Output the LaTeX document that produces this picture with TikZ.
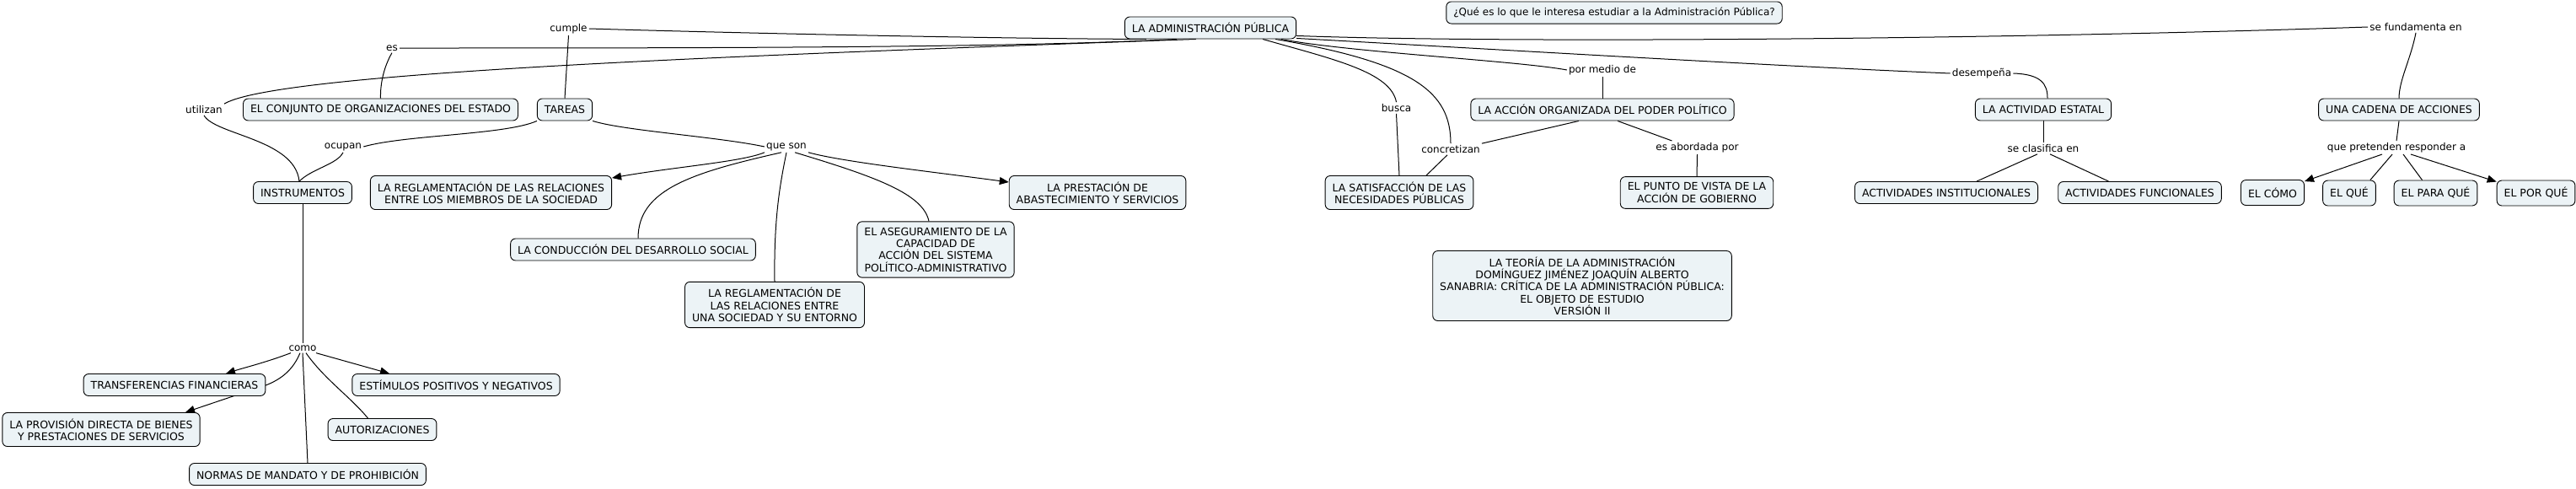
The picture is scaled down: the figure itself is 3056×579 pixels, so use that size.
\documentclass[tikz,border=0pt]{standalone}
\usepackage{fontspec}
\setmainfont{DejaVu Sans}
\usetikzlibrary{arrows.meta, backgrounds}
\definecolor{conceptfill}{RGB}{236,243,246}

\begin{document}
\begin{tikzpicture}[x=1pt, y=1pt, >={Triangle[length=11pt,width=9pt]},
  font=\fontsize{12}{14.3}\selectfont, line cap=round, line join=round,
  concept/.style={draw=black, fill=conceptfill, rounded corners=6pt,
    line width=0.9pt, align=center, inner xsep=8.5pt, inner ysep=7pt,
    minimum height=26pt, font=\fontsize{12.5}{14.3}\selectfont},
  smallbox/.style={concept, minimum height=30pt},
  linkword/.style={inner sep=2pt},
  wire/.style={line width=1pt}]

  %% ---- frame ----
  \useasboundingbox (0,0) rectangle (3056,-579);

  %% ---- concepts ----
  \node[concept] (admin)    at (1436,-33)  {LA ADMINISTRACIÓN PÚBLICA};
  \node[concept, font=\fontsize{12}{14.3}\selectfont] (pregunta) at (1915,-15)  {¿Qué es lo que le interesa estudiar a la Administración Pública?};
  \node[concept] (conjunto) at (451.5,-130) {EL CONJUNTO DE ORGANIZACIONES DEL ESTADO};
  \node[concept] (tareas)   at (670,-130)  {TAREAS};
  \node[concept] (instrumentos) at (359,-228.5) {INSTRUMENTOS};
  \node[concept] (reglaUno) at (582.5,-228.5) {LA REGLAMENTACIÓN DE LAS RELACIONES\\ENTRE LOS MIEMBROS DE LA SOCIEDAD};
  \node[concept] (conduccion) at (751,-296) {LA CONDUCCIÓN DEL DESARROLLO SOCIAL};
  \node[concept] (reglaDos) at (919,-361.5) {LA REGLAMENTACIÓN DE\\LAS RELACIONES ENTRE\\UNA SOCIEDAD Y SU ENTORNO};
  \node[concept] (asegura)  at (1110,-296) {EL ASEGURAMIENTO DE LA\\CAPACIDAD DE\\ACCIÓN DEL SISTEMA\\POLÍTICO-ADMINISTRATIVO};
  \node[concept] (prestacion) at (1302,-228.5) {LA PRESTACIÓN DE\\ABASTECIMIENTO Y SERVICIOS};
  \node[concept] (satisfaccion) at (1660,-228.5) {LA SATISFACCIÓN DE LAS\\NECESIDADES PÚBLICAS};
  \node[concept] (accion)   at (1901,-130) {LA ACCIÓN ORGANIZADA DEL PODER POLÍTICO};
  \node[concept] (punto)    at (2013,-228.5) {EL PUNTO DE VISTA DE LA\\ACCIÓN DE GOBIERNO};
  \node[concept] (teoria)   at (1877,-339) {LA TEORÍA DE LA ADMINISTRACIÓN\\DOMÍNGUEZ JIMÉNEZ JOAQUÍN ALBERTO\\SANABRIA: CRÍTICA DE LA ADMINISTRACIÓN PÚBLICA:\\EL OBJETO DE ESTUDIO\\VERSIÓN II};
  \node[concept] (estatal)  at (2424,-130) {LA ACTIVIDAD ESTATAL};
  \node[concept] (cadena)   at (2846,-130) {UNA CADENA DE ACCIONES};
  \node[concept] (instit)   at (2309,-228.5) {ACTIVIDADES INSTITUCIONALES};
  \node[concept] (funcion)  at (2538.5,-228.5) {ACTIVIDADES FUNCIONALES};
  \node[smallbox] (cComo)   at (2696,-228.5) {EL CÓMO};
  \node[smallbox] (cQue)    at (2787,-229) {EL QUÉ};
  \node[smallbox] (cPara)   at (2889.5,-229) {EL PARA QUÉ};
  \node[smallbox] (cPorque) at (3008.5,-229) {EL POR QUÉ};
  \node[concept] (transfer) at (207,-456.5) {TRANSFERENCIAS FINANCIERAS};
  \node[concept] (estimulos) at (541,-456.5) {ESTÍMULOS POSITIVOS Y NEGATIVOS};
  \node[concept] (provision) at (120,-509.5) {LA PROVISIÓN DIRECTA DE BIENES\\Y PRESTACIONES DE SERVICIOS};
  \node[concept] (autoriza) at (453.5,-509.5) {AUTORIZACIONES};
  \node[concept] (normas)   at (365,-562.5) {NORMAS DE MANDATO Y DE PROHIBICIÓN};

  %% ---- linking words ----
  \node[linkword] (lCumple)   at (674.5,-34) {cumple};
  \node[linkword] (lEs)       at (465,-57)   {es};
  \node[linkword] (lUtilizan) at (242,-130)  {utilizan};
  \node[linkword] (lOcupan)   at (407,-174)  {ocupan};
  \node[linkword] (lQueSon)   at (933,-174)  {que son};
  \node[linkword] (lComo)     at (359,-413)  {como};
  \node[linkword] (lBusca)    at (1656.5,-128) {busca};
  \node[linkword] (lConcretizan) at (1721,-177) {concretizan};
  \node[linkword] (lMedio)    at (1901,-83)  {por medio de};
  \node[linkword] (lAbordada) at (2013.5,-175) {es abordada por};
  \node[linkword] (lDesempena) at (2351,-87) {desempeña};
  \node[linkword] (lFundamenta) at (2866,-32) {se fundamenta en};
  \node[linkword] (lClasifica) at (2424,-176) {se clasifica en};
  \node[linkword] (lPretenden) at (2843,-175) {que pretenden responder a};

  \begin{scope}[on background layer]
  %% ---- from the administration, to the left ----
  \draw[wire] (lCumple.east) .. controls (900,-40) and (1200,-46) .. ([xshift=26pt]admin.south west);
  \draw[wire] (lEs.east) .. controls (800,-57) and (1200,-57) .. ([xshift=62pt]admin.south west);
  \draw[wire] (lUtilizan.north east) .. controls (330,-85) and (900,-65) .. ([xshift=85pt]admin.south west);
  \draw[wire] (lCumple.south) -- (tareas.north);
  \draw[wire] (lEs.south) .. controls (455,-80) and (451,-100) .. (conjunto.north);
  \draw[wire] (lUtilizan.south) .. controls (255,-160) and (350,-165) .. ([xshift=-4pt]instrumentos.north);
  \draw[wire] (tareas.south west) .. controls (600,-160) and (480,-160) .. (lOcupan.east);
  \draw[wire] (lOcupan.south) .. controls (400,-195) and (370,-200) .. ([xshift=-4pt]instrumentos.north);
  \draw[wire] (tareas.south east) .. controls (740,-155) and (850,-162) .. (lQueSon.west);

  %% ---- que son ----
  \draw[wire,->] (lQueSon.south west) .. controls (880,-192) and (800,-198) .. ([yshift=-3pt]reglaUno.north east);
  \draw[wire] ([xshift=-6pt]lQueSon.south) .. controls (820,-205) and (757,-225) .. ([xshift=6pt]conduccion.north);
  \draw[wire] (lQueSon.south) .. controls (925,-220) and (918,-260) .. (reglaDos.north);
  \draw[wire] ([xshift=10pt]lQueSon.south) .. controls (1040,-210) and (1095,-230) .. ([xshift=-8pt]asegura.north);
  \draw[wire,->] (lQueSon.south east) .. controls (1000,-192) and (1100,-203) .. ([yshift=-8pt]prestacion.north west);

  %% ---- como ----
  \draw[wire] (instrumentos.south) -- (lComo.north);
  \draw[wire,->] ([xshift=-14pt]lComo.south) .. controls (315,-430) and (290,-436) .. ([xshift=61pt]transfer.north);
  \draw[wire,->] ([xshift=-3pt]lComo.south) .. controls (345,-445) and (325,-455) .. (300,-462) -- ([xshift=100pt]provision.north);
  \draw[wire] (lComo.south) -- (normas.north);
  \draw[wire] ([xshift=4pt]lComo.south) .. controls (385,-450) and (415,-470) .. ([xshift=-17pt]autoriza.north);
  \draw[wire,->] ([xshift=16pt]lComo.south) -- ([xshift=-79pt]estimulos.north);

  %% ---- middle ----
  \draw[wire] ([xshift=62pt]admin.south) .. controls (1580,-70) and (1650,-85) .. (lBusca.north);
  \draw[wire] (lBusca.south) -- (satisfaccion.north);
  \draw[wire] ([xshift=77pt]admin.south) .. controls (1680,-75) and (1721,-110) .. (lConcretizan.north);
  \draw[wire] ([xshift=-28pt]accion.south) -- (lConcretizan.north east);
  \draw[wire] ([xshift=-4pt]lConcretizan.south) -- ([xshift=32pt]satisfaccion.north);
  \draw[wire] ([xshift=84pt]admin.south) .. controls (1600,-62) and (1800,-72) .. (lMedio.west);
  \draw[wire] (lMedio.south) -- (accion.north);
  \draw[wire] ([xshift=18pt]accion.south) -- ([xshift=-30pt]lAbordada.north);
  \draw[wire] (lAbordada.south) -- (punto.north);

  %% ---- right ----
  \draw[wire] ([yshift=1pt]admin.south east) .. controls (1800,-60) and (2100,-78) .. (lDesempena.west);
  \draw[wire] ([yshift=4pt]admin.south east) .. controls (1800,-52) and (2400,-46) .. (lFundamenta.west);
  \draw[wire] (lDesempena.east) .. controls (2422,-88) and (2429,-100) .. ([xshift=5pt]estatal.north);
  \draw[wire] (lFundamenta.south) .. controls (2860,-70) and (2846,-95) .. (cadena.north);
  \draw[wire] (cadena.south) -- (lPretenden.north);
  \draw[wire] (estatal.south) -- (lClasifica.north);
  \draw[wire] ([xshift=-7pt]lClasifica.south) -- ([xshift=36pt]instit.north);
  \draw[wire] ([xshift=8pt]lClasifica.south) -- ([xshift=-37pt]funcion.north);
  \draw[wire,->] ([xshift=-17pt]lPretenden.south) -- ([yshift=-2pt]cComo.north east);
  \draw[wire] ([xshift=-5pt]lPretenden.south) -- ([xshift=-7pt]cQue.north east);
  \draw[wire] ([xshift=8pt]lPretenden.south) -- ([xshift=-16pt]cPara.north);
  \draw[wire,->] ([xshift=17pt]lPretenden.south) -- ([yshift=-2pt]cPorque.north west);
  \end{scope}

\end{tikzpicture}
\end{document}
